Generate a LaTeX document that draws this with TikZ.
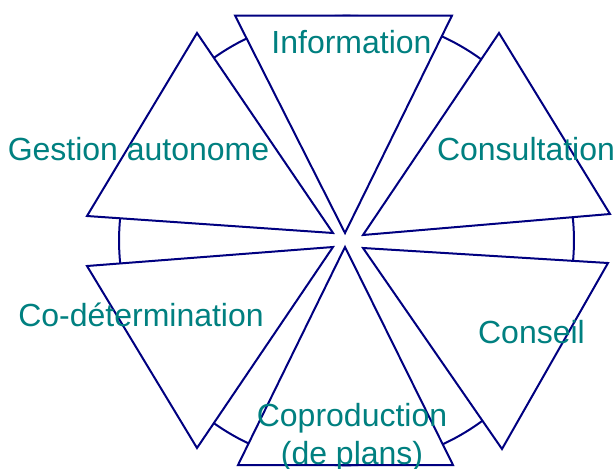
\documentclass[tikz,border=0pt]{standalone}
\usepackage{fontspec}
\setmainfont{Liberation Sans}
\definecolor{linenavy}{RGB}{0,0,128}
\definecolor{labelteal}{RGB}{0,128,128}
\tikzset{
    ring/.style={draw=linenavy,line width=1.5pt},
    wedge/.style={draw=linenavy,fill=white,line width=1.5pt,line join=miter},
    lbl/.style={text=labelteal,font=\fontsize{24}{28.5}\selectfont,inner sep=0pt}
}
\begin{document}
\begin{tikzpicture}[x=0.75pt,y=-0.75pt]
        \useasboundingbox (0,0) rectangle (614,468);
        \coordinate (mid) at (346.5,240.5);
        \draw[ring] (mid) ellipse (170.6pt and 168.6pt);

        \draw[wedge] (235,15.5) -- (452,15.5) -- (345,233) -- cycle;
        \draw[wedge] (499,33) -- (610,214) -- (363,235) -- cycle;
        \draw[wedge] (608,263) -- (502,449) -- (363,248) -- cycle;
        \draw[wedge] (453,465) -- (238,465) -- (345,247) -- cycle;
        \draw[wedge] (197,448) -- (87,266) -- (333,247) -- cycle;
        \draw[wedge] (87,216) -- (197,33) -- (333,233) -- cycle;

        \node[lbl,anchor=base] (info) at (351.5,53) {Information};
        \node[lbl,anchor=base] (consult) at (526,160) {Consultation};
        \node[lbl,anchor=base] (conseil) at (531.5,343) {Conseil};
        \node[lbl,anchor=north,align=center] (coprod) at (352,403) {Coproduction\\(de plans)};
        \node[lbl,anchor=base] (codet) at (141,326) {Co-détermination};
        \node[lbl,anchor=base] (gestion) at (138.5,160) {Gestion autonome};
    \end{tikzpicture}
\end{document}
